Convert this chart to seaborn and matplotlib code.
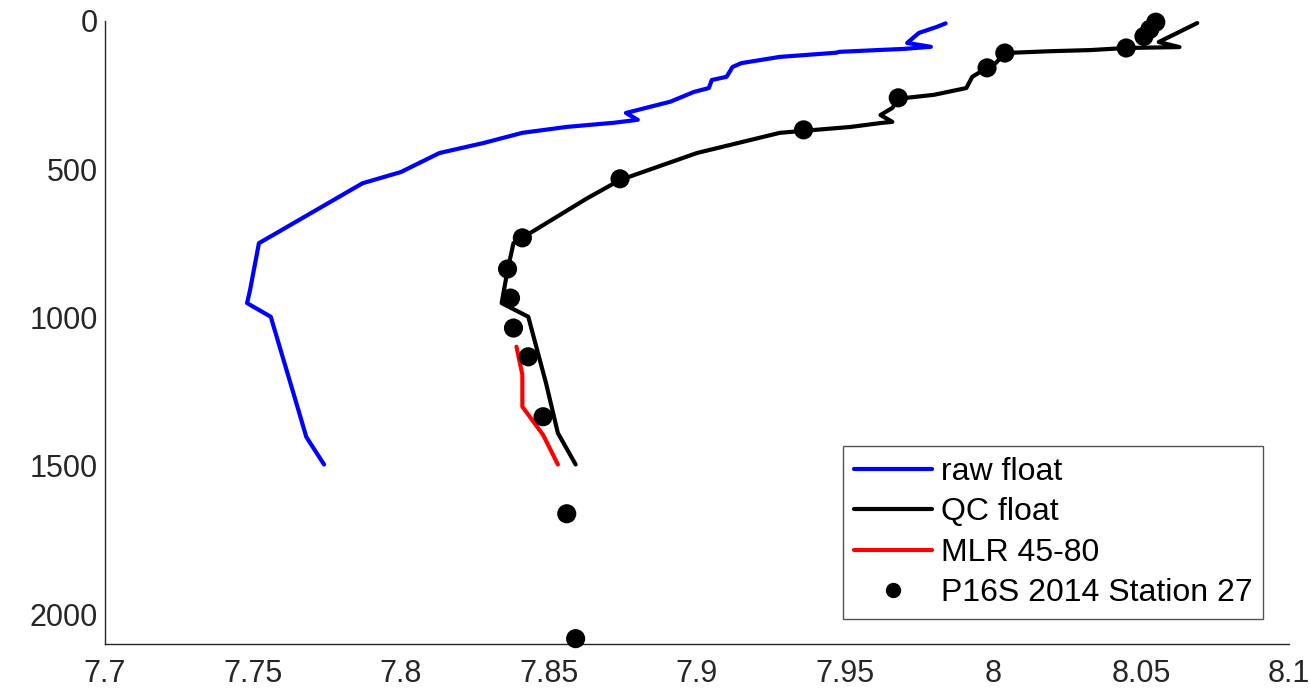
import matplotlib
matplotlib.use("Agg")
import matplotlib.pyplot as plt
import seaborn as sns
import pandas as pd
from matplotlib.lines import Line2D

# ---------------- data ----------------
raw_ph = [7.984, 7.981, 7.975, 7.971, 7.979, 7.970, 7.948, 7.947, 7.928, 7.915, 7.912,
          7.910, 7.905, 7.904, 7.899, 7.891, 7.876, 7.880, 7.872, 7.856, 7.841, 7.828,
          7.813, 7.800, 7.787, 7.752, 7.749, 7.748, 7.756, 7.762, 7.765, 7.768, 7.774]
raw_depth = [8, 20, 40, 74, 87, 94, 104, 107, 121, 142, 155,
             188, 199, 226, 239, 272, 310, 333, 343, 357, 377, 411,
             445, 509, 547, 749, 907, 951, 997, 1199, 1300, 1402, 1495]

qc_ph = [8.069, 8.056, 8.063, 8.045, 8.033, 8.019, 8.004, 8.001, 7.998, 7.993, 7.991,
         7.980, 7.968, 7.966, 7.962, 7.966, 7.962, 7.952, 7.928, 7.900, 7.874, 7.863,
         7.838, 7.836, 7.834, 7.843, 7.846, 7.849, 7.853, 7.859]
qc_depth = [7, 71, 88, 91, 98, 102, 108, 141, 158, 188, 226,
            249, 262, 293, 317, 340, 344, 357, 377, 445, 536, 597,
            749, 840, 951, 997, 1109, 1221, 1389, 1495]

mlr_ph = [7.839, 7.841, 7.841, 7.848, 7.853]
mlr_depth = [1098, 1192, 1300, 1395, 1495]

bottle_ph = [8.055, 8.053, 8.051, 8.045, 8.004, 7.998, 7.968, 7.936, 7.874, 7.841,
             7.836, 7.837, 7.838, 7.843, 7.848, 7.856, 7.859]
bottle_depth = [4, 28, 52, 91, 108, 158, 259, 367, 532, 731,
                836, 934, 1035, 1132, 1334, 1661, 2082]

x_ticks = [7.7, 7.75, 7.8, 7.85, 7.9, 7.95, 8.0, 8.05, 8.1]
x_tick_labels = ["7.7", "7.75", "7.8", "7.85", "7.9", "7.95", "8", "8.05", "8.1"]
y_ticks = [0, 500, 1000, 1500, 2000]
y_tick_labels = ["0", "500", "1000", "1500", "2000"]

series_labels = ["raw float", "QC float", "MLR 45-80", "P16S 2014 Station 27"]

# ---------------- plot ----------------
sns.set_theme(style="white")
plt.rcParams["font.family"] = ["Liberation Sans", "DejaVu Sans"]

fig = plt.figure(figsize=(13.11, 6.95), dpi=100)
ax = fig.add_axes([0.0801, 0.0734, 0.9031, 0.8964])

raw_df = pd.DataFrame({"ph": raw_ph, "depth": raw_depth})
qc_df = pd.DataFrame({"ph": qc_ph, "depth": qc_depth})
mlr_df = pd.DataFrame({"ph": mlr_ph, "depth": mlr_depth})
bot_df = pd.DataFrame({"ph": bottle_ph, "depth": bottle_depth})

sns.lineplot(data=raw_df, x="ph", y="depth", sort=False, estimator=None,
             color=(0, 0, 1), lw=3.0, ax=ax)
sns.lineplot(data=qc_df, x="ph", y="depth", sort=False, estimator=None,
             color="black", lw=3.0, ax=ax)
sns.lineplot(data=mlr_df, x="ph", y="depth", sort=False, estimator=None,
             color=(1, 0, 0), lw=3.0, ax=ax)
sns.scatterplot(data=bot_df, x="ph", y="depth", color="black", s=190,
                edgecolor="none", ax=ax, clip_on=False, zorder=5)

ax.set_xlim(7.7, 8.1)
ax.set_ylim(2100, 0)
ax.set_xticks(x_ticks)
ax.set_xticklabels(x_tick_labels)
ax.set_yticks(y_ticks)
ax.set_yticklabels(y_tick_labels)
ax.set_xlabel("")
ax.set_ylabel("")

for s in ["top", "right"]:
    ax.spines[s].set_visible(False)
for s in ["left", "bottom"]:
    ax.spines[s].set_color("#262626")
    ax.spines[s].set_linewidth(1.0)
ax.tick_params(direction="in", length=9, width=1.0, colors="#262626",
               labelsize=22, labelcolor="#262626")
ax.tick_params(axis="x", pad=11)
ax.tick_params(axis="y", pad=5)

handles = [
    Line2D([], [], color=(0, 0, 1), lw=3.0),
    Line2D([], [], color="black", lw=3.0),
    Line2D([], [], color=(1, 0, 0), lw=3.0),
    Line2D([], [], color="black", lw=0, marker="o", markersize=10),
]
leg = ax.legend(handles, series_labels, loc="lower right",
                bbox_to_anchor=(0.9781, 0.0401), fontsize=23,
                frameon=True, fancybox=False, shadow=False, framealpha=1,
                edgecolor="#555555", handlelength=2.44, handletextpad=0.28,
                labelspacing=0.33, borderpad=0.33, borderaxespad=0)
leg.get_frame().set_linewidth(1.0)
for t in leg.get_texts():
    t.set_color("black")

fig.savefig("out.png", dpi=100, facecolor="white")
